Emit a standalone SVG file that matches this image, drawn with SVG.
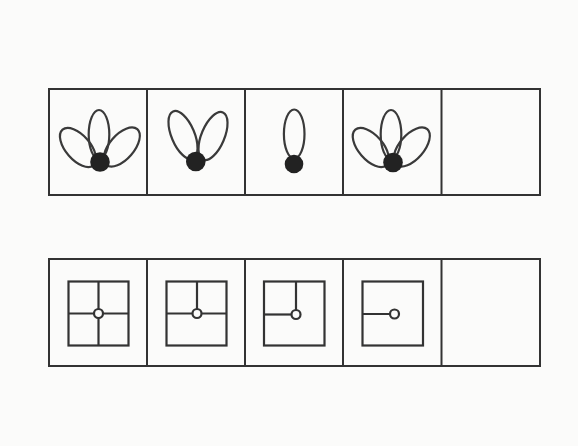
<svg xmlns="http://www.w3.org/2000/svg" width="578" height="446" viewBox="0 0 578 446">
  <style>
    .frame { fill: none; stroke: #333; stroke-width: 2; }
    .petal { fill: none; stroke: #3a3a3a; stroke-width: 2.2; }
    .dot { fill: #222; }
    .sq { fill: none; stroke: #333; stroke-width: 2.2; }
    .ring { fill: #fbfbfa; stroke: #333; stroke-width: 2.2; }
  </style>
  <defs>
    <ellipse id="petal" class="petal" cx="0" cy="0" rx="10.3" ry="24.5"/>
    <ellipse id="petal-side" class="petal" cx="0" cy="0" rx="12.3" ry="23.6"/>
    <ellipse id="petal-long" class="petal" cx="0" cy="0" rx="11.5" ry="25.6"/>
  </defs>
  <rect width="578" height="446" fill="#fbfbfa"/>

  <g id="connectors"></g>

  <!-- Top row -->
  <g id="top-row">
    <rect class="frame" x="49" y="89" width="491" height="106"/>
    <line class="frame" x1="147" y1="89" x2="147" y2="195"/>
    <line class="frame" x1="245" y1="89" x2="245" y2="195"/>
    <line class="frame" x1="343" y1="89" x2="343" y2="195"/>
    <line class="frame" x1="441.5" y1="89" x2="441.5" y2="195"/>
  </g>

  <g id="flower-1">
    <use href="#petal-side" transform="translate(78,147.5) rotate(-41)"/>
    <use href="#petal-side" transform="translate(121.8,147) rotate(41)"/>
    <use href="#petal" transform="translate(99,134.5)"/>
    <circle class="dot" cx="100" cy="162" r="9.8"/>
  </g>

  <g id="flower-2">
    <use href="#petal-long" transform="translate(183,135) rotate(-22.8)"/>
    <use href="#petal-long" transform="translate(213,136) rotate(22.8)"/>
    <circle class="dot" cx="195.8" cy="161.5" r="9.8"/>
  </g>

  <g id="flower-3">
    <use href="#petal" transform="translate(294.2,134)"/>
    <circle class="dot" cx="294" cy="164" r="9.3"/>
  </g>

  <g id="flower-4">
    <use href="#petal-side" transform="translate(370.8,147.5) rotate(-41)"/>
    <use href="#petal-side" transform="translate(411.8,147) rotate(41)"/>
    <use href="#petal" transform="translate(391,134.5)"/>
    <circle class="dot" cx="393" cy="162.5" r="9.8"/>
  </g>

  <g id="box-top-5"></g>

  <!-- Bottom row -->
  <g id="bottom-row">
    <rect class="frame" x="49" y="259" width="491" height="107"/>
    <line class="frame" x1="147" y1="259" x2="147" y2="366"/>
    <line class="frame" x1="245" y1="259" x2="245" y2="366"/>
    <line class="frame" x1="343" y1="259" x2="343" y2="366"/>
    <line class="frame" x1="441.5" y1="259" x2="441.5" y2="366"/>
  </g>

  <g id="window-1">
    <rect class="sq" x="68.5" y="281.5" width="60" height="64"/>
    <line class="sq" x1="98.5" y1="281.5" x2="98.5" y2="345.5"/>
    <line class="sq" x1="68.5" y1="313.5" x2="128.5" y2="313.5"/>
    <circle class="ring" cx="98.5" cy="313.5" r="4.5"/>
  </g>

  <g id="window-2">
    <rect class="sq" x="166.5" y="281.5" width="60" height="64"/>
    <line class="sq" x1="197" y1="281.5" x2="197" y2="313.5"/>
    <line class="sq" x1="166.5" y1="313.5" x2="226.5" y2="313.5"/>
    <circle class="ring" cx="197" cy="313.5" r="4.5"/>
  </g>

  <g id="window-3">
    <rect class="sq" x="264" y="281.5" width="60.5" height="64"/>
    <line class="sq" x1="296" y1="281.5" x2="296" y2="314.5"/>
    <line class="sq" x1="264" y1="314.5" x2="296" y2="314.5"/>
    <circle class="ring" cx="296" cy="314.5" r="4.5"/>
  </g>

  <g id="window-4">
    <rect class="sq" x="362.5" y="281.5" width="60.5" height="64"/>
    <line class="sq" x1="362.5" y1="314" x2="394.5" y2="314"/>
    <circle class="ring" cx="394.5" cy="314" r="4.5"/>
  </g>

  <g id="box-bottom-5"></g>
</svg>
